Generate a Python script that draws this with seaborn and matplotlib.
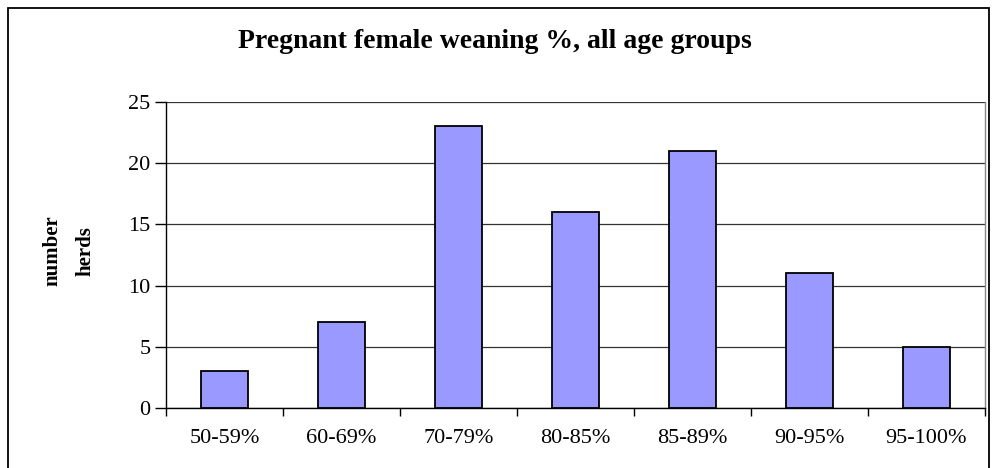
import numpy as np
import pandas as pd
import seaborn as sns
from matplotlib import pyplot as plt
from matplotlib.patches import Rectangle

categories = ["50-59%", "60-69%", "70-79%", "80-85%", "85-89%", "90-95%", "95-100%"]
herds = [3, 7, 23, 16, 21, 11, 5]

df = pd.DataFrame({"weaning": categories, "herds": herds})

sns.set_style("white")
plt.rcParams['font.family'] = ['Liberation Serif', 'DejaVu Serif']
plt.rcParams['text.color'] = 'black'
plt.rcParams['xtick.color'] = 'black'
plt.rcParams['ytick.color'] = 'black'

fig = plt.figure(figsize=(9.93, 4.68), dpi=100)
ax = fig.add_axes([166 / 993, 60 / 468, 819 / 993, 306 / 468])

sns.barplot(data=df, x="weaning", y="herds", color="#9999ff", saturation=1,
            width=0.4, edgecolor="black", linewidth=1.3, ax=ax, zorder=3)

ax.set_xlim(-0.5, 6.5)
ax.set_ylim(0, 25)
ax.set_yticks(range(0, 26, 5))
ax.yaxis.grid(True, color="#333333", linewidth=0.9, zorder=0)
ax.set_axisbelow(True)

# ticks at category boundaries, labels in the middle
ax.set_xticks(np.arange(-0.5, 7, 1))
ax.set_xticklabels([])
ax.set_xticks(range(len(categories)), minor=True)
ax.set_xticklabels(categories, minor=True)
ax.tick_params(axis="x", which="major", bottom=True, direction="out", length=6, width=1, color="black")
ax.tick_params(axis="x", which="minor", bottom=False, length=0, pad=15, labelsize=16, labelcolor="black")
ax.tick_params(axis="y", left=True, direction="out", length=8, width=1, color="black",
               labelsize=16, pad=3, labelcolor="black")

ax.spines["top"].set_visible(False)
ax.spines["left"].set_color("black")
ax.spines["bottom"].set_color("black")
ax.spines["right"].set_color("#888888")
for s in ax.spines.values():
    s.set_linewidth(1)

ax.set_xlabel("")
ax.set_ylabel("")
fig.text(69 / 993, 1 - 251 / 468, "number\nherds", rotation=90, ha="center", va="center",
         fontsize=15, fontweight="bold", linespacing=1.9, color="black")

fig.text(495 / 993, 1 - 41 / 468, "Pregnant female weaning %, all age groups",
         ha="center", va="center", fontsize=20, fontweight="bold", color="black")

# outer chart border
fig.patches.append(Rectangle((8 / 993, -0.01), 981 / 993, 1 - 8 / 468 + 0.01,
                             transform=fig.transFigure, fill=False,
                             edgecolor="black", linewidth=1.3))

fig.savefig("out.png", dpi=100)
